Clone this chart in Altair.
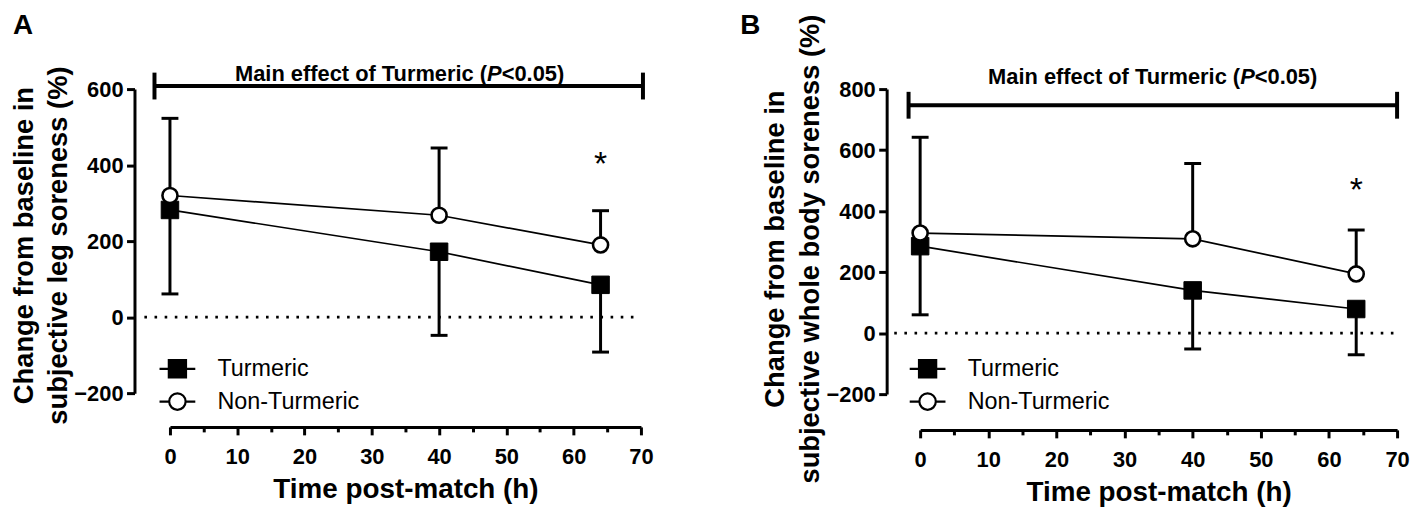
import altair as alt
import pandas as pd

FONT = "Liberation Sans"
BLACK = "#000000"

# ---------------- data ----------------
times = [0, 40, 64]
series_names = ["Turmeric", "Non-Turmeric"]

# Panel A: subjective leg soreness (% change from baseline)
leg_turmeric_mean = [282, 172, 85]
leg_turmeric_lower = [61, -48, -92]
leg_nonturmeric_mean = [320, 268, 190]
leg_nonturmeric_upper = [523, 445, 280]

# Panel B: subjective whole body soreness (% change from baseline)
body_turmeric_mean = [285, 140, 79]
body_turmeric_lower = [60, -52, -71]
body_nonturmeric_mean = [328, 309, 194]
body_nonturmeric_upper = [642, 556, 338]

x_tick_values = [0, 5, 10, 15, 20, 25, 30, 35, 40, 45, 50, 55, 60, 65, 70]
leg_y_ticks = [-200, 0, 200, 400, 600]
body_y_ticks = [-200, 0, 200, 400, 600, 800]

x_title = "Time post-match (h)"
leg_y_title = ["Change from baseline in", "subjective leg soreness (%)"]
body_y_title = ["Change from baseline in", "subjective whole body soreness (%)"]
effect_parts = ["Main effect of Turmeric (", "P", "<0.05)"]

# annotation anchors in data units
leg_bracket = [-2.3, 70.3, 608]
leg_effect_anchor = [34, 640]
leg_star_anchor = [64, 374]
body_bracket = [-1.7, 70.0, 747]
body_effect_anchor = [34, 838]
body_star_anchor = [64, 434]
zero_line_extent = [-3.8, 70]

SQ_PATH = "M-1,0H1M-0.48,-0.48H0.48V0.48H-0.48Z"
CIRC_PATH = ("M-1,0H-0.46M0.46,0H1M-0.46,0A0.46,0.46,0,1,0,0.46,0"
             "A0.46,0.46,0,1,0,-0.46,0Z")


def make_panel(letter, t_mean, t_low, n_mean, n_up, y_ticks, y_title,
               bracket, effect_anchor, star_anchor, width, height,
               y_offset, x_offset, letter_x, title_lh, title_dy, legend_y, row_pad):
    data = pd.DataFrame({
        "time": times * 2,
        "series": [series_names[0]] * 3 + [series_names[1]] * 3,
        "mean": t_mean + n_mean,
        "end": t_low + n_up,
    })
    xscale = alt.Scale(domain=[0, 70], nice=False, zero=False)
    yscale = alt.Scale(domain=[y_ticks[0], y_ticks[-1]], nice=False, zero=False)
    common = dict(domainColor=BLACK, domainWidth=3, tickColor=BLACK, tickWidth=3,
                  labelFont=FONT, labelFontSize=22, labelFontWeight="bold",
                  labelColor=BLACK, labelFlush=False, labelOverlap=False, grid=False,
                  titleFont=FONT, titleFontWeight="bold", titleColor=BLACK)
    xaxis = alt.Axis(values=x_tick_values, offset=x_offset,
                     tickSize={"condition": {"test": "datum.value % 10 === 0", "value": 8},
                               "value": 5},
                     labelExpr="datum.value % 10 === 0 ? datum.label : ''",
                     labelPadding=12, titleFontSize=28, titleX=width / 2, titleY=63,
                     titleAlign="center", titleBaseline="middle", **common)
    yaxis = alt.Axis(values=y_ticks, offset=y_offset, tickSize=8, labelPadding=3.5,
                     titleFontSize=27.5, titleLineHeight=title_lh, titleAngle=270,
                     titleAlign="center", titleBaseline="middle",
                     titleX=-146 + y_offset, titleY=height / 2 + title_dy, **common)

    def X(f):
        return alt.X(f, type="quantitative", scale=xscale, axis=xaxis, title=x_title)

    def Y(f):
        return alt.Y(f, type="quantitative", scale=yscale, axis=yaxis, title=y_title)

    base = alt.Chart(data)

    zero = alt.Chart(pd.DataFrame({"x": [zero_line_extent[0]], "x2": [zero_line_extent[1]],
                                   "y": [0]})).mark_rule(
        color=BLACK, strokeWidth=2.6, strokeDash=[2.6, 7.6]).encode(
        x=X("x"), x2="x2", y=Y("y"))

    lines = base.mark_line(color=BLACK, strokeWidth=1.7).encode(
        x=X("time"), y=Y("mean"), detail="series:N")
    stems = base.mark_rule(color=BLACK, strokeWidth=3).encode(
        x=X("time"), y=Y("mean"), y2="end")
    caps = base.mark_tick(color=BLACK, orient="horizontal", thickness=3, size=17,
                          opacity=1).encode(x=X("time"), y=Y("end"))
    tpts = base.transform_filter(alt.datum.series == series_names[0]).mark_point(
        shape="square", filled=True, fill=BLACK, stroke=BLACK, strokeWidth=1,
        size=310, opacity=1).encode(x=X("time"), y=Y("mean"))
    npts = base.transform_filter(alt.datum.series == series_names[1]).mark_point(
        shape="circle", filled=True, fill="white", stroke=BLACK, strokeWidth=2.6,
        size=230, opacity=1).encode(x=X("time"), y=Y("mean"))

    bdf = pd.DataFrame({"x0": [bracket[0]], "x1": [bracket[1]], "y": [bracket[2]]})
    brule = alt.Chart(bdf).mark_rule(color=BLACK, strokeWidth=4).encode(
        x=X("x0"), x2="x1", y=Y("y"))
    bcdf = pd.DataFrame({"x": [bracket[0], bracket[1]], "y": [bracket[2]] * 2})
    bcaps = alt.Chart(bcdf).mark_tick(color=BLACK, orient="vertical", thickness=4,
                                      size=27, opacity=1).encode(x=X("x"), y=Y("y"))

    edf = pd.DataFrame({"x": [effect_anchor[0]], "y": [effect_anchor[1]]})
    tstyle = dict(font=FONT, fontSize=22, fontWeight="bold", color=BLACK,
                  baseline="middle")
    e1 = alt.Chart(edf).mark_text(text=effect_parts[0], align="right", dx=88.9,
                                  **tstyle).encode(x=X("x"), y=Y("y"))
    e2 = alt.Chart(edf).mark_text(text=effect_parts[1], align="left", dx=88.9,
                                  fontStyle="italic", **tstyle).encode(x=X("x"), y=Y("y"))
    e3 = alt.Chart(edf).mark_text(text=effect_parts[2], align="left", dx=103.6,
                                  **tstyle).encode(x=X("x"), y=Y("y"))

    sdf = pd.DataFrame({"x": [star_anchor[0]], "y": [star_anchor[1]]})
    star = alt.Chart(sdf).mark_text(text="*", font=FONT, fontSize=34, color=BLACK,
                                    align="center", baseline="alphabetic").encode(
        x=X("x"), y=Y("y"))

    letter_mark = alt.Chart(pd.DataFrame({"t": [letter]})).mark_text(
        font=FONT, fontSize=28, fontWeight="bold", color=BLACK, align="left",
        baseline="top", x=letter_x, y=-77).encode(text="t:N")

    leg = alt.Legend(title=None, orient="none", legendX=-12, legendY=legend_y,
                     symbolSize=1296, symbolStrokeWidth=2.2, symbolStrokeColor=BLACK,
                     labelFont=FONT, labelFontSize=23.5, labelColor=BLACK,
                     labelOffset=20.8, rowPadding=row_pad, padding=0, labelLimit=0,
                     direction="vertical", symbolOpacity=1)
    legend_layer = base.transform_filter("false").mark_point(
        filled=True, opacity=1, strokeWidth=2.2).encode(
        shape=alt.Shape("series:N", scale=alt.Scale(domain=series_names,
                                                    range=[SQ_PATH, CIRC_PATH]),
                        legend=leg),
        fill=alt.Fill("series:N", scale=alt.Scale(domain=series_names,
                                                  range=[BLACK, "white"]),
                      legend=leg),
        stroke=alt.Stroke("series:N", scale=alt.Scale(domain=series_names,
                                                      range=[BLACK, BLACK]),
                          legend=leg))

    return alt.layer(zero, lines, stems, caps, tpts, npts, brule, bcaps,
                     e1, e2, e3, star, letter_mark, legend_layer).properties(
        width=width, height=height)


panel_a = make_panel("A", leg_turmeric_mean, leg_turmeric_lower, leg_nonturmeric_mean,
                     leg_nonturmeric_upper, leg_y_ticks, leg_y_title, leg_bracket,
                     leg_effect_anchor, leg_star_anchor, 474, 306, 35.7, 34,
                     -158, 34, 4, 262, -2.5)
panel_b = make_panel("B", body_turmeric_mean, body_turmeric_lower, body_nonturmeric_mean,
                     body_nonturmeric_upper, body_y_ticks, body_y_title, body_bracket,
                     body_effect_anchor, body_star_anchor, 480, 307, 33.7, 36,
                     -181, 36, 7, 262, -1.5)

chart = alt.hconcat(panel_a, panel_b, spacing=281, bounds="flush",
                    padding={"left": 3, "top": 3, "right": 0, "bottom": 0}).resolve_scale(
    x="independent", y="independent", shape="independent", fill="independent",
    stroke="independent"
).resolve_legend(shape="independent", fill="independent",
                 stroke="independent").configure_view(stroke=None)

chart.save("out.html", embed_options={"renderer": "svg", "actions": False})
